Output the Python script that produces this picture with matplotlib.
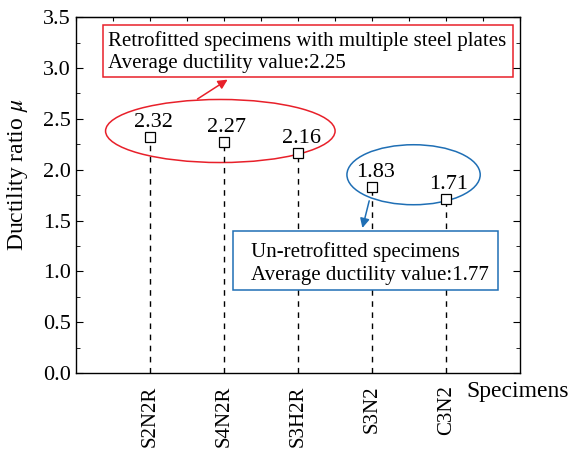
import numpy as np
import matplotlib.pyplot as plt
from matplotlib.patches import Ellipse, Rectangle
from matplotlib.ticker import MultipleLocator

# -------------------- Data --------------------
specimens = ['S2N2R', 'S4N2R', 'S3H2R', 'S3N2', 'C3N2']
ductility = [2.32, 2.27, 2.16, 1.83, 1.71]
avg_retrofitted = 2.25
avg_unretrofitted = 1.77

plt.rcParams['font.family'] = ['Liberation Serif', 'DejaVu Serif']
plt.rcParams['mathtext.fontset'] = 'stix'

fig = plt.figure(figsize=(5.71, 4.5), dpi=100)
ax = fig.add_axes([0.133, 0.171, 0.778, 0.791])

x = np.arange(1, len(specimens) + 1)

# dashed drop lines + open square markers
for xi, yi in zip(x, ductility):
    ax.plot([xi, xi], [0, yi], color='black', linestyle='--', linewidth=1, dashes=(4, 4))
ax.plot(x, ductility, linestyle='none', marker='s', markersize=7,
        markerfacecolor='white', markeredgecolor='black', markeredgewidth=0.9)
for xi, yi in zip(x, ductility):
    ax.text(xi + 0.04, yi + 0.05, f'{yi:.2f}', ha='center', va='bottom', fontsize=16)

# highlight ellipses
red = '#e8202a'
blue = '#1f6fb5'
ax.add_patch(Ellipse((1.95, 2.38), 3.1, 0.62, fill=False, edgecolor=red, linewidth=1.1))
ax.add_patch(Ellipse((4.56, 1.95), 1.8, 0.59, fill=False, edgecolor=blue, linewidth=1.1))

# annotation boxes
ax.add_patch(Rectangle((0.365, 2.91), 5.54, 0.51, fill=False, edgecolor=red, linewidth=1.1))
ax.text(0.43, 3.155,
        'Retrofitted specimens with multiple steel plates\n'
        f'Average ductility value:{avg_retrofitted:.2f}',
        fontsize=15, ha='left', va='center', linespacing=1.25)
ax.add_patch(Rectangle((2.122, 0.816), 3.58, 0.58, facecolor='white',
                       edgecolor=blue, linewidth=1.1, zorder=3))
ax.text(2.365, 1.077,
        'Un-retrofitted specimens\n'
        f'Average ductility value:{avg_unretrofitted:.2f}',
        fontsize=15, ha='left', va='center', linespacing=1.25, zorder=4)

# arrows
ax.annotate('', xy=(2.08, 2.9), xytext=(1.61, 2.68),
            arrowprops=dict(arrowstyle='-|>', color=red, linewidth=1.1, mutation_scale=14))
ax.annotate('', xy=(3.86, 1.40), xytext=(3.97, 1.72),
            arrowprops=dict(arrowstyle='-|>', color=blue, linewidth=1.1, mutation_scale=14))

# axes styling
ax.set_xlim(0, 6)
ax.set_ylim(0, 3.5)
ax.set_xticks(x)
ax.set_xticklabels(specimens, rotation=90, fontsize=15)
ax.tick_params(axis='x', length=0, pad=9)
ax.yaxis.set_major_locator(MultipleLocator(0.5))
ax.yaxis.set_minor_locator(MultipleLocator(0.25))
ax.tick_params(axis='y', which='major', direction='in', length=5, right=True, labelsize=16)
ax.tick_params(axis='y', which='minor', direction='in', length=3, right=True)
ax.yaxis.set_major_formatter(plt.FormatStrFormatter('%.1f'))

# small inward ticks along the top spine
top = ax.secondary_xaxis('top')
top.xaxis.set_major_locator(MultipleLocator(0.5))
top.tick_params(direction='in', length=3, labeltop=False)

ax.set_ylabel(r'Ductility ratio $\mu$', fontsize=17)
ax.yaxis.set_label_coords(-0.104, 0.556)
ax.text(0.88, -0.053, 'Specimens', transform=ax.transAxes, fontsize=17,
        ha='left', va='center')
for s in ax.spines.values():
    s.set_linewidth(1.0)

fig.savefig('out.png', dpi=100)
